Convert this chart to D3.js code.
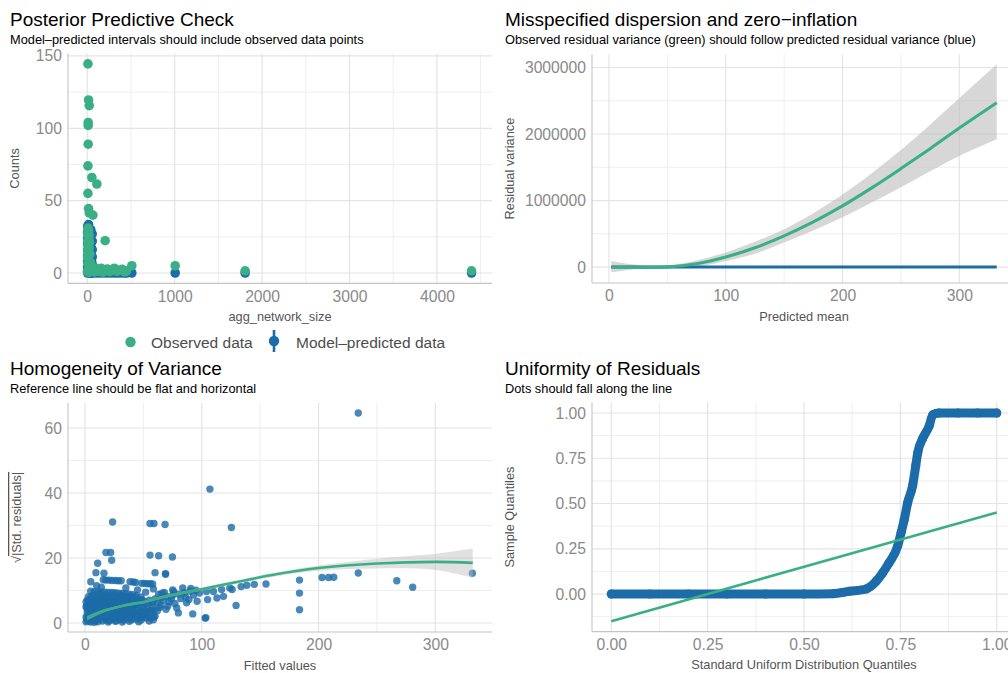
<!DOCTYPE html>
<html>
<head>
<meta charset="utf-8">
<title>Model checks</title>
<script src="https://d3js.org/d3.v7.min.js"></script>
<style>
  body { margin: 0; background: #fff; }
  svg text { font-family: "Liberation Sans", Arial, Helvetica, sans-serif; }
</style>
</head>
<body>
<script>
// colours of the check plots
var green = "#3aaf85", blue = "#1b6ca8";

// ---- posterior predictive check: observed counts [size, count]
var observedCounts = [
  [8,144.5],[15,119.6],[23,115.7],[11,104],[11,102],[11,89],[8,74],[53,66],[110,61.5],
  [8,55],[15,44.5],[23,41.5],[65,40],[205,22.3],
  [10,31],[15,29],[8,27],[20,26],[12,25],[18,23.5],[6,22],[25,21],[10,20],[14,18.5],
  [20,17],[8,16],[12,14.5],[30,13],[5,11],[15,9],[25,8],[8,6.5],[40,7],[35,5],
  [2,1],[10,2],[20,0.5],[30,3],[45,1.5],[60,2.5],[80,0.8],[100,3.3],[120,1.2],[140,2.2],
  [160,3.3],[180,0.6],[200,1.8],[230,2.8],[260,1],[290,2.2],[310,3.3],[340,1.2],[370,2],
  [400,2.5],[430,0.8],[450,1.5],
  [510,5],[1006,5],[1806,1.5],[4396,1.5]
];
// model-predicted counts [size, lower, predicted, upper]
var predictedCounts = [
  [5,0,0,2],[5,2,4,6],[5,6,8,10],[5,10,12,14],[5,14,16,18],[5,18,20,22],[5,22,24,26],[5,26,28,30],[5,30,32,34],
  [15,0,1,3],[15,3,5,7],[15,8,10,12],[15,13,15,17],[15,18,20,22],[15,23,25,27],[15,28,30,32],[15,31,33.5,35],
  [28,0,0,2],[28,3,5,7],[28,8,10,12],[28,13,15,17],[28,18,20,22],[28,23,25,27],[28,28,30,32],
  [40,0,0,2],[40,3,5,7],[40,8,10,12],[40,13,15,17],[40,18,20,22],[40,24,26,28],[40,28,30,32],
  [50,0,0,2],[50,2,4,6],[50,6,8,10],[50,10,12,14],[50,15,17,19],[50,20,22,24],
  [57,0,1,3],[57,4,6,8],[57,9,11,13],[57,14,16,18],[57,20,22,24],[57,25,27,29],
  [70,0,0,1],[110,0,0,1],[150,0,0,1],[190,0,0,1],[230,0,0,1],[270,0,0,1],[310,0,0,1],
  [350,0,0,1],[390,0,0,1],[430,0,0,1],[450,0,0,1],
  [510,0,0,1],[1006,0,0,1],[1806,0,0,1],[4396,0,0,1]
];
var ppcXTicks = [0, 1000, 2000, 3000, 4000], ppcXMinor = [500, 1500, 2500, 3500, 4500];
var ppcYTicks = [0, 50, 100, 150], ppcYMinor = [25, 75, 125];

// ---- dispersion: residual variance against predicted mean
var predictedMean = [2, 25, 50, 75, 100, 125, 150, 175, 200, 225, 250, 275, 300, 332];
var observedResVar = [0, -5000, 0, 50000, 150000, 290000, 470000, 680000, 920000, 1190000, 1480000, 1780000, 2090000, 2470000];
var observedResLo = [-80000, -30000, -20000, 0, 90000, 200000, 370000, 550000, 750000, 970000, 1200000, 1440000, 1670000, 1920000];
var observedResHi = [90000, 30000, 25000, 100000, 220000, 380000, 570000, 810000, 1090000, 1410000, 1760000, 2140000, 2540000, 3050000];
var predictedResVar = [2, 25, 50, 75, 100, 125, 150, 175, 200, 225, 250, 275, 300, 332];
var dispXTicks = [0, 100, 200, 300], dispXMinor = [50, 150, 250];
var dispYTicks = [0, 1000000, 2000000, 3000000], dispYMinor = [500000, 1500000, 2500000];

// ---- homogeneity of variance: [fitted, sqrt|std. residual|]
var stdResiduals = [
  [234,64.6],[107,41.2],[23.7,31.1],[55.7,30.6],[59.1,30.6],[68.6,30.3],[125.4,29.4],
  [18,21.7],[22,21.7],[22.9,19.3],[10.9,18.4],[9.4,15.5],[16.3,15.3],[55.7,20.9],[63.1,20.7],
  [74.9,20.3],[60,15.5],[69,15.2],[69,15],
  [15.7,13.3],[18,13.2],[20.5,13.2],[23,13.1],[26,13.1],[28.5,13],[31,13],
  [38.6,12.7],[41.4,12.6],[43.4,12.5],[48.6,12.2],[51,12.2],[53.5,12.1],[56,12.1],[58,12],
  [58.6,10.5],[75.1,10.2],[83.7,10.8],[90.6,10.6],
  [4.9,9.8],[8,9.6],[11,9.6],[14,9.5],[17,9.5],[20,9.4],[23,9.4],[26,9.3],[29,9.2],[32,9.1],
  [35,9],[38,8.9],[41,8.7],[44,8.5],
  [45,6.2],[50,6.6],[55,7],[60,7.4],[65,7.8],[70,8.2],[75,8.5],[80,8.9],[85,9.3],[90,9.8],[95,10.1],
  [87,6.2],[96,6.7],[78.6,4.6],[80,3.1],[69.4,4.2],[60,2.1],[58.6,1],[102.9,1.5],[103.5,1.6],[92.3,2.8],
  [104,9.7],[110,9.7],[117,10.3],[124,10.8],[126,10.3],[105,7.2],[113,7.7],[118.6,8.2],[129.4,5.4],
  [133.7,11.2],[138.6,11.6],[145,11.9],[155,12],
  [183.7,13.2],[183.7,9.2],[183.7,4.1],[203,14],[208.6,14],[213,14.1],[234,15.4],[267,13],
  [280.6,11],[331.7,15.3],
  [1,0.4],[5,0.3],[8,0.2],[11,0.4],[20,0.3],[26,0.5],[32,0.3],[38,0.5],[46,0.4],[55,0.6],
  [2,0.8],[4,0.6],[6,1.2],[9,0.7],[12,1.1],[15,0.6],[18,1],[21,0.8],[24,1.3],[27,0.7],[30,1.1],
  [33,0.9],[36,1.4],[40,1],[44,1.2],[48,0.9],[52,1.5],
  [1,1.8],[4,1.7],[7,2],[10,1.6],[13,1.9],[16,1.7],[19,2],[22,1.6],[25,1.9],[28,1.7],[31,2],
  [34,1.6],[37,1.9],[41,1.7],[45,2],[49,1.6],[53,2.1],[56,1.5],[59,1.9],
  [3,2.4],[6,2.8],[9,2.2],[12,2.6],[15,3],[18,2.3],[21,2.7],[24,2.2],[27,2.9],[30,2.5],[33,2.1],
  [36,2.8],[39,2.4],[42,3],[45,2.6],[49,2.2],[53,2.9],[57,3.2],
  [2,3.2],[5,3.5],[8,3.1],[11,3.4],[14,3.2],[17,3.5],[20,3.1],[23,3.4],[26,3.2],[29,3.5],[32,3.1],
  [35,3.4],[38,3.2],[41,3.5],[44,3.1],[47,3.4],[50,3.2],[53,3.6],[56,3.8],[59,4],
  [2,4.2],[5,3.8],[8,4.5],[11,4],[14,4.6],[17,3.9],[20,4.4],[23,4.8],[26,4.1],[29,4.5],[32,3.9],
  [35,4.7],[38,4.2],[41,4.9],[44,4.4],[47,3.8],[50,4.6],[54,4.3],[58,5],
  [1,5],[4,4.9],[7,5.2],[10,4.8],[13,5.1],[16,4.9],[19,5.2],[22,5],[25,5.3],[28,5.1],[31,5.4],
  [34,5.2],[37,5.5],[40,5.3],[43,5.6],[46,5.8],[49,5.4],[52,6],[55,6.2],[58,6.4],
  [3,5.6],[6,6.2],[9,5.4],[12,5.9],[15,6.4],[18,5.7],[21,6.1],[24,5.5],[27,6.3],[30,5.8],[33,6.4],
  [36,5.6],[39,6],[42,5.5],
  [1,6.5],[4,6.7],[7,6.4],[10,6.8],[13,6.6],[16,6.9],[19,6.5],[22,6.8],[25,6.6],[28,6.9],[31,6.6],
  [34,6.9],[37,6.7],[40,7],[43,6.8],[46,7.1],[49,7.2],
  [2,7],[5,7.6],[8,6.8],[11,7.4],[14,7.9],[17,7.2],[20,7.7],[24,7.1],[28,7.6],[32,7.3],[36,7.8],[40,7.5],
  [3,8.1],[9,7.9],[15,8.2],[21,8],[27,8.1],[33,8.2],[38,8.1],[43,7.9],[48,8],
  [7,8.5],[13,8.8],[19,8.4],[25,8.7],[31,8.3],
  [62,6.2],[64,4.8],[67,7],[71,5.2],[74,7.4],[77,6],[82,7.5],[86,8],[89,7.2],[93,8.6],[98,9.2],
  [76,9.6],[68,9.4],[63,8.8],
  [10,11.5],[5,12.7],[14,11],[35,10.8],[45,10.2],[52,9.5],[65,5.5],[72,6.5],[62,3.8],[66,9.2],[2,2],[1.5,5]
];
var smoothX = [2, 15, 30, 41, 50, 61, 73, 87, 100, 116, 130, 159, 200, 250, 300, 332];
var smoothY = [1.5, 3.6, 5.1, 5.9, 6.4, 7.5, 8.5, 9.5, 10.4, 11.6, 12.6, 14.7, 16.9, 18.3, 18.8, 18.5];
var smoothLo = [0.8, 3.1, 4.7, 5.5, 6.0, 7.1, 8.1, 9.1, 9.9, 11.1, 12.1, 14.1, 16.1, 16.8, 16.3, 13.9];
var smoothHi = [2.2, 4.1, 5.5, 6.3, 6.8, 7.9, 8.9, 9.9, 10.9, 12.1, 13.1, 15.3, 17.7, 19.8, 21.3, 22.9];
var homXTicks = [0, 100, 200, 300], homXMinor = [50, 150, 250];
var homYTicks = [0, 20, 40, 60], homYMinor = [10, 30, 50];

// ---- uniformity of residuals: QQ against standard uniform
var uniformQuantiles = [0, 0.1, 0.2, 0.3, 0.4, 0.5, 0.575, 0.618, 0.661, 0.687, 0.704, 0.72, 0.743,
  0.752, 0.76, 0.769, 0.782, 0.79, 0.795, 0.808, 0.825, 0.834, 0.85, 0.9, 0.95, 1.0];
var sampleQuantiles = [0, 0, 0, 0, 0, 0, 0.002, 0.015, 0.028, 0.07, 0.117, 0.17, 0.265,
  0.34, 0.41, 0.505, 0.6, 0.71, 0.78, 0.86, 0.93, 0.99, 1.0, 1.0, 1.0, 1.0];
var qqLineX = [0, 1], qqLineY = [-0.15, 0.45];
var qqXTicks = [0, 0.25, 0.5, 0.75, 1], qqXMinor = [0.125, 0.375, 0.625, 0.875];
var qqYTicks = [0, 0.25, 0.5, 0.75, 1], qqYMinor = [-0.125, 0.125, 0.375, 0.625, 0.875];

var svg = d3.select("body").append("svg")
  .attr("width", 1008)
  .attr("height", 673);

// one ggplot-like panel: title, grid, axis lines, tick labels, axis titles
function panel(p) {
  var L = p.box[0], T = p.box[1], R = p.box[2], B = p.box[3];
  var x = d3.scaleLinear().domain(p.xDomain).range([L, R]);
  var y = d3.scaleLinear().domain(p.yDomain).range([B, T]);
  var g = svg.append("g");

  g.append("text").attr("x", p.titleAt[0]).attr("y", p.titleAt[1])
    .attr("font-size", 19).attr("fill", "#000").text(p.title);
  g.append("text").attr("x", p.titleAt[0]).attr("y", p.titleAt[1] + 17.5)
    .attr("font-size", 12.8).attr("fill", "#000").text(p.subtitle);

  // grid, minor first
  g.selectAll(null).data(p.xMinor).enter().append("line")
    .attr("x1", x).attr("x2", x).attr("y1", T).attr("y2", B)
    .attr("stroke", "#eeeeee").attr("stroke-width", 1);
  g.selectAll(null).data(p.yMinor).enter().append("line")
    .attr("y1", y).attr("y2", y).attr("x1", L).attr("x2", R)
    .attr("stroke", "#eeeeee").attr("stroke-width", 1);
  g.selectAll(null).data(p.xTicks).enter().append("line")
    .attr("x1", x).attr("x2", x).attr("y1", T).attr("y2", B)
    .attr("stroke", "#e4e4e4").attr("stroke-width", 1.2);
  g.selectAll(null).data(p.yTicks).enter().append("line")
    .attr("y1", y).attr("y2", y).attr("x1", L).attr("x2", R)
    .attr("stroke", "#e4e4e4").attr("stroke-width", 1.2);

  // axis lines
  g.append("line").attr("x1", L).attr("x2", L).attr("y1", T).attr("y2", B)
    .attr("stroke", "#c4c4c4").attr("stroke-width", 1.1);
  g.append("line").attr("x1", L).attr("x2", R).attr("y1", B).attr("y2", B)
    .attr("stroke", "#c4c4c4").attr("stroke-width", 1.1);

  // tick labels
  var xa = g.append("g").attr("transform", "translate(0," + B + ")")
    .call(d3.axisBottom(x).tickValues(p.xTicks).tickSize(0).tickPadding(7).tickFormat(p.xFormat));
  var ya = g.append("g").attr("transform", "translate(" + L + ",0)")
    .call(d3.axisLeft(y).tickValues(p.yTicks).tickSize(0).tickPadding(6).tickFormat(p.yFormat));
  [xa, ya].forEach(function(a) {
    a.select(".domain").remove();
    a.selectAll("text").attr("font-size", 15.7).attr("fill", "#8a8a8a")
      .attr("font-family", "Liberation Sans, Arial, sans-serif");
  });

  // axis titles
  g.append("text").attr("x", (L + R) / 2).attr("y", B + 37.5)
    .attr("text-anchor", "middle").attr("font-size", 12.8).attr("fill", "#555")
    .text(p.xTitle);
  var yt = g.append("text")
    .attr("transform", "translate(" + p.yTitleX + "," + (T + B) / 2 + ") rotate(-90)")
    .attr("text-anchor", "middle").attr("font-size", 12.8).attr("fill", "#555");
  if (p.yTitleRoot) {
    yt.append("tspan").text("\u221A");
    yt.append("tspan").style("text-decoration", "overline").text(p.yTitle);
  } else {
    yt.text(p.yTitle);
  }

  var plot = g.append("g");
  return { x: x, y: y, g: plot };
}

// ---- Posterior Predictive Check
var p1 = panel({
  box: [68, 53.5, 492, 283.4], xDomain: [-220, 4630], yDomain: [-7.2, 151.7],
  xTicks: ppcXTicks, xMinor: ppcXMinor, yTicks: ppcYTicks, yMinor: ppcYMinor,
  xFormat: d3.format("d"), yFormat: d3.format("d"),
  title: "Posterior Predictive Check",
  subtitle: "Model\u2013predicted intervals should include observed data points",
  titleAt: [10, 26], xTitle: "agg_network_size", yTitle: "Counts", yTitleX: 19
});
p1.g.selectAll(null).data(predictedCounts).enter().append("line")
  .attr("x1", function(d) { return p1.x(d[0]); })
  .attr("x2", function(d) { return p1.x(d[0]); })
  .attr("y1", function(d) { return p1.y(d[1]); })
  .attr("y2", function(d) { return p1.y(d[3]); })
  .attr("stroke", blue).attr("stroke-width", 1.5);
p1.g.selectAll(null).data(predictedCounts).enter().append("circle")
  .attr("cx", function(d) { return p1.x(d[0]); })
  .attr("cy", function(d) { return p1.y(d[2]); })
  .attr("r", 4.8).attr("fill", blue);
p1.g.selectAll(null).data(observedCounts).enter().append("circle")
  .attr("cx", function(d) { return p1.x(d[0]); })
  .attr("cy", function(d) { return p1.y(d[1]); })
  .attr("r", 4.8).attr("fill", green);

// legend
var legend = svg.append("g").attr("font-size", 15.5).attr("fill", "#4d4d4d");
legend.append("circle").attr("cx", 130.5).attr("cy", 342).attr("r", 5.2).attr("fill", green);
legend.append("text").attr("x", 151).attr("y", 347.5).text("Observed data");
legend.append("line").attr("x1", 274).attr("x2", 274).attr("y1", 330).attr("y2", 352)
  .attr("stroke", blue).attr("stroke-width", 2.6);
legend.append("circle").attr("cx", 274).attr("cy", 341).attr("r", 5.2).attr("fill", blue);
legend.append("text").attr("x", 296).attr("y", 347.5).text("Model\u2013predicted data");

// ---- Misspecified dispersion and zero-inflation
var p2 = panel({
  box: [592, 54.2, 1016, 283], xDomain: [-14.5, 348.5], yDomain: [-240000, 3200000],
  xTicks: dispXTicks, xMinor: dispXMinor, yTicks: dispYTicks, yMinor: dispYMinor,
  xFormat: d3.format("d"), yFormat: d3.format("d"),
  title: "Misspecified dispersion and zero\u2212inflation",
  subtitle: "Observed residual variance (green) should follow predicted residual variance (blue)",
  titleAt: [505, 26], xTitle: "Predicted mean", yTitle: "Residual variance", yTitleX: 513.5
});
var dispIdx = d3.range(predictedMean.length);
p2.g.append("path").datum(dispIdx)
  .attr("d", d3.area().curve(d3.curveCatmullRom)
    .x(function(i) { return p2.x(predictedMean[i]); })
    .y0(function(i) { return p2.y(observedResLo[i]); })
    .y1(function(i) { return p2.y(observedResHi[i]); }))
  .attr("fill", "#bdbdbd").attr("fill-opacity", 0.6);
p2.g.append("path").datum(dispIdx)
  .attr("d", d3.line().curve(d3.curveCatmullRom)
    .x(function(i) { return p2.x(predictedMean[i]); })
    .y(function(i) { return p2.y(predictedResVar[i]); }))
  .attr("fill", "none").attr("stroke", blue).attr("stroke-width", 3);
p2.g.append("path").datum(dispIdx)
  .attr("d", d3.line().curve(d3.curveCatmullRom)
    .x(function(i) { return p2.x(predictedMean[i]); })
    .y(function(i) { return p2.y(observedResVar[i]); }))
  .attr("fill", "none").attr("stroke", green).attr("stroke-width", 3);

// ---- Homogeneity of Variance
var p3 = panel({
  box: [68, 403, 492, 632], xDomain: [-14.5, 348.5], yDomain: [-2.77, 67.7],
  xTicks: homXTicks, xMinor: homXMinor, yTicks: homYTicks, yMinor: homYMinor,
  xFormat: d3.format("d"), yFormat: d3.format("d"),
  title: "Homogeneity of Variance",
  subtitle: "Reference line should be flat and horizontal",
  titleAt: [10, 375], xTitle: "Fitted values", yTitle: "|Std. residuals|", yTitleRoot: true, yTitleX: 21
});
p3.g.selectAll(null).data(stdResiduals).enter().append("circle")
  .attr("cx", function(d) { return p3.x(d[0]); })
  .attr("cy", function(d) { return p3.y(d[1]); })
  .attr("r", 3.7).attr("fill", blue).attr("fill-opacity", 0.8);
var homIdx = d3.range(smoothX.length);
p3.g.append("path").datum(homIdx)
  .attr("d", d3.area().curve(d3.curveCatmullRom)
    .x(function(i) { return p3.x(smoothX[i]); })
    .y0(function(i) { return p3.y(smoothLo[i]); })
    .y1(function(i) { return p3.y(smoothHi[i]); }))
  .attr("fill", "#bdbdbd").attr("fill-opacity", 0.45);
p3.g.append("path").datum(homIdx)
  .attr("d", d3.line().curve(d3.curveCatmullRom)
    .x(function(i) { return p3.x(smoothX[i]); })
    .y(function(i) { return p3.y(smoothY[i]); }))
  .attr("fill", "none").attr("stroke", green).attr("stroke-width", 2.6);

// ---- Uniformity of Residuals
var p4 = panel({
  box: [592, 402.6, 1016, 631.6], xDomain: [-0.05, 1.05], yDomain: [-0.2075, 1.0575],
  xTicks: qqXTicks, xMinor: qqXMinor, yTicks: qqYTicks, yMinor: qqYMinor,
  xFormat: d3.format(".2f"), yFormat: d3.format(".2f"),
  title: "Uniformity of Residuals",
  subtitle: "Dots should fall along the line",
  titleAt: [505, 375], xTitle: "Standard Uniform Distribution Quantiles",
  yTitle: "Sample Quantiles", yTitleX: 513.5
});
var qqIdx = d3.range(uniformQuantiles.length);
p4.g.append("path").datum(qqIdx)
  .attr("d", d3.line().curve(d3.curveMonotoneX)
    .x(function(i) { return p4.x(uniformQuantiles[i]); })
    .y(function(i) { return p4.y(sampleQuantiles[i]); }))
  .attr("fill", "none").attr("stroke", blue).attr("stroke-width", 9)
  .attr("stroke-linecap", "round").attr("stroke-linejoin", "round");
p4.g.selectAll(null).data(qqIdx).enter().append("circle")
  .attr("cx", function(i) { return p4.x(uniformQuantiles[i]); })
  .attr("cy", function(i) { return p4.y(sampleQuantiles[i]); })
  .attr("r", 4.5).attr("fill", blue);
p4.g.append("line")
  .attr("x1", p4.x(qqLineX[0])).attr("y1", p4.y(qqLineY[0]))
  .attr("x2", p4.x(qqLineX[1])).attr("y2", p4.y(qqLineY[1]))
  .attr("stroke", green).attr("stroke-width", 2.6);
</script>
</body>
</html>
